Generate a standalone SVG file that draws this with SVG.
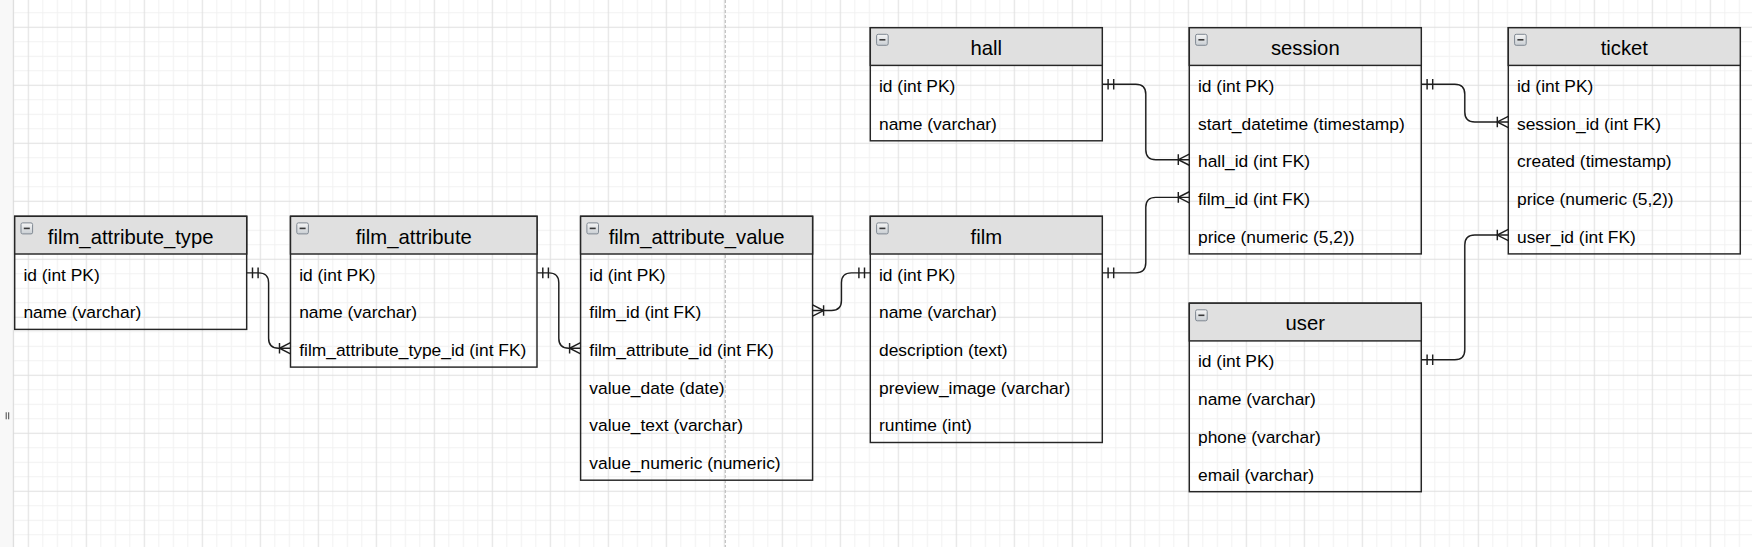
<svg xmlns="http://www.w3.org/2000/svg" xmlns:xlink="http://www.w3.org/1999/xlink" width="1752" height="547" viewBox="0 0 1752 547">
  <style>
    .box { fill: none; stroke: #262626; stroke-width: 1.45; }
    .hdr { fill: #e0e0e0; stroke: #262626; stroke-width: 1.45; }
    .title { font-family: "Liberation Sans", Arial, sans-serif; font-size: 20.3px; fill: #000; text-anchor: middle; }
    .row { font-family: "Liberation Sans", Arial, sans-serif; font-size: 17.4px; fill: #000; }
    .conn { fill: none; stroke: #1e1e1e; stroke-width: 1.45; marker-start: url(#mandOne); marker-end: url(#oneToMany); }
    .mk { fill: none; stroke: #1e1e1e; stroke-width: 1.45; }
  </style>
  <defs>
    <pattern id="grid" patternUnits="userSpaceOnUse" x="-7.85" y="-8.95" width="58" height="58">
      <path d="M7.25 0V58M21.75 0V58M50.75 0V58M0 7.25H58M0 21.75H58M0 50.75H58" stroke="#f1f1f1" stroke-width="1"/>
      <path d="M36.25 0V58M0 36.25H58" stroke="#dfdfdf" stroke-width="1"/>
    </pattern>
    <linearGradient id="icoGrad" x1="0" y1="0" x2="0" y2="1">
      <stop offset="0" stop-color="#f6f6f6"/>
      <stop offset="1" stop-color="#c9ced3"/>
    </linearGradient>
    <g id="collapse">
      <rect x="0" y="0" width="11.6" height="11" rx="1.6" fill="url(#icoGrad)" stroke="#7f8892" stroke-width="1"/>
      <path d="M2.8 5.5H8.8" stroke="#3a3a3a" stroke-width="1.6"/>
    </g>
    <marker id="mandOne" markerUnits="userSpaceOnUse" orient="auto" refX="0" refY="0" markerWidth="20" markerHeight="20" overflow="visible">
      <path class="mk" d="M5.8 -5.3V5.3M11.4 -5.3V5.3"/>
    </marker>
    <marker id="oneToMany" markerUnits="userSpaceOnUse" orient="auto" refX="0" refY="0" markerWidth="20" markerHeight="20" overflow="visible">
      <path class="mk" d="M-11 -5.3V5.3M0 -5.6L-11 0L0 5.6"/>
    </marker>
  </defs>

  <!-- background -->
  <rect x="0" y="0" width="1752" height="547" fill="#ffffff"/>
  <rect x="0" y="0" width="1752" height="547" fill="url(#grid)"/>
  <rect x="0" y="0" width="13.3" height="547" fill="#f8f8f8"/>
  <line x1="13.3" y1="0" x2="13.3" y2="547" stroke="#d9d9d9" stroke-width="1"/>
  <path d="M6.2 412.3V419.3M8.7 412.3V419.3" stroke="#444" stroke-width="1"/>
  <line x1="725.3" y1="0" x2="725.3" y2="547" stroke="#b8b8b8" stroke-width="1" stroke-dasharray="3 2"/>

  <!-- film_attribute_type -->
  <g id="film_attribute_type">
    <rect class="box" x="14.7" y="216.3" width="232" height="113.1"/>
    <rect class="hdr" x="14.7" y="216.3" width="232" height="37.7"/>
    <use xlink:href="#collapse" x="21" y="222.9"/>
    <text class="title" x="130.7" y="243.5">film_attribute_type</text>
    <text class="row" x="23.4" y="280.5">id (int PK)</text>
    <text class="row" x="23.4" y="318.2">name (varchar)</text>
  </g>

  <!-- film_attribute -->
  <g id="film_attribute">
    <rect class="box" x="290.5" y="216.3" width="246.5" height="150.8"/>
    <rect class="hdr" x="290.5" y="216.3" width="246.5" height="37.7"/>
    <use xlink:href="#collapse" x="296.8" y="222.9"/>
    <text class="title" x="413.75" y="243.5">film_attribute</text>
    <text class="row" x="299.2" y="280.5">id (int PK)</text>
    <text class="row" x="299.2" y="318.2">name (varchar)</text>
    <text class="row" x="299.2" y="355.9">film_attribute_type_id (int FK)</text>
  </g>

  <!-- film_attribute_value -->
  <g id="film_attribute_value">
    <rect class="box" x="580.6" y="216.3" width="232" height="263.9"/>
    <rect class="hdr" x="580.6" y="216.3" width="232" height="37.7"/>
    <use xlink:href="#collapse" x="586.9" y="222.9"/>
    <text class="title" x="696.6" y="243.5">film_attribute_value</text>
    <text class="row" x="589.3" y="280.5">id (int PK)</text>
    <text class="row" x="589.3" y="318.2">film_id (int FK)</text>
    <text class="row" x="589.3" y="355.9">film_attribute_id (int FK)</text>
    <text class="row" x="589.3" y="393.6">value_date (date)</text>
    <text class="row" x="589.3" y="431.3">value_text (varchar)</text>
    <text class="row" x="589.3" y="469.0">value_numeric (numeric)</text>
  </g>

  <!-- film -->
  <g id="film">
    <rect class="box" x="870.3" y="216.3" width="232" height="226.2"/>
    <rect class="hdr" x="870.3" y="216.3" width="232" height="37.7"/>
    <use xlink:href="#collapse" x="876.6" y="222.9"/>
    <text class="title" x="986.3" y="243.5">film</text>
    <text class="row" x="879" y="280.5">id (int PK)</text>
    <text class="row" x="879" y="318.2">name (varchar)</text>
    <text class="row" x="879" y="355.9">description (text)</text>
    <text class="row" x="879" y="393.6">preview_image (varchar)</text>
    <text class="row" x="879" y="431.3">runtime (int)</text>
  </g>

  <!-- hall -->
  <g id="hall">
    <rect class="box" x="870.3" y="27.7" width="232" height="113.1"/>
    <rect class="hdr" x="870.3" y="27.7" width="232" height="37.7"/>
    <use xlink:href="#collapse" x="876.6" y="34.3"/>
    <text class="title" x="986.3" y="54.9">hall</text>
    <text class="row" x="879" y="91.9">id (int PK)</text>
    <text class="row" x="879" y="129.6">name (varchar)</text>
  </g>

  <!-- session -->
  <g id="session">
    <rect class="box" x="1189.3" y="27.7" width="232" height="226.2"/>
    <rect class="hdr" x="1189.3" y="27.7" width="232" height="37.7"/>
    <use xlink:href="#collapse" x="1195.6" y="34.3"/>
    <text class="title" x="1305.3" y="54.9">session</text>
    <text class="row" x="1198" y="91.9">id (int PK)</text>
    <text class="row" x="1198" y="129.6">start_datetime (timestamp)</text>
    <text class="row" x="1198" y="167.3">hall_id (int FK)</text>
    <text class="row" x="1198" y="205.0">film_id (int FK)</text>
    <text class="row" x="1198" y="242.7">price (numeric (5,2))</text>
  </g>

  <!-- ticket -->
  <g id="ticket">
    <rect class="box" x="1508.3" y="27.7" width="232" height="226.2"/>
    <rect class="hdr" x="1508.3" y="27.7" width="232" height="37.7"/>
    <use xlink:href="#collapse" x="1514.6" y="34.3"/>
    <text class="title" x="1624.3" y="54.9">ticket</text>
    <text class="row" x="1517" y="91.9">id (int PK)</text>
    <text class="row" x="1517" y="129.6">session_id (int FK)</text>
    <text class="row" x="1517" y="167.3">created (timestamp)</text>
    <text class="row" x="1517" y="205.0">price (numeric (5,2))</text>
    <text class="row" x="1517" y="242.7">user_id (int FK)</text>
  </g>

  <!-- user -->
  <g id="user">
    <rect class="box" x="1189.3" y="303.2" width="232" height="188.5"/>
    <rect class="hdr" x="1189.3" y="303.2" width="232" height="37.7"/>
    <use xlink:href="#collapse" x="1195.6" y="309.8"/>
    <text class="title" x="1305.3" y="330.4">user</text>
    <text class="row" x="1198" y="367.4">id (int PK)</text>
    <text class="row" x="1198" y="405.1">name (varchar)</text>
    <text class="row" x="1198" y="442.8">phone (varchar)</text>
    <text class="row" x="1198" y="480.5">email (varchar)</text>
  </g>

  <!-- connectors -->
  <g id="connectors">
    <path class="conn" d="M246.7 272.85H258.6Q268.6 272.85 268.6 282.85V338.25Q268.6 348.25 278.6 348.25H290.5"/>
    <path class="conn" d="M537 272.85H548.8Q558.8 272.85 558.8 282.85V338.25Q558.8 348.25 568.8 348.25H580.6"/>
    <path class="conn" d="M870.3 272.85H851.45Q841.45 272.85 841.45 282.85V300.55Q841.45 310.55 831.45 310.55H812.6"/>
    <path class="conn" d="M1102.3 84.25H1135.8Q1145.8 84.25 1145.8 94.25V149.65Q1145.8 159.65 1155.8 159.65H1189.3"/>
    <path class="conn" d="M1102.3 272.85H1135.8Q1145.8 272.85 1145.8 262.85V207.35Q1145.8 197.35 1155.8 197.35H1189.3"/>
    <path class="conn" d="M1421.3 84.25H1454.8Q1464.8 84.25 1464.8 94.25V111.95Q1464.8 121.95 1474.8 121.95H1508.3"/>
    <path class="conn" d="M1421.3 359.75H1454.8Q1464.8 359.75 1464.8 349.75V245.05Q1464.8 235.05 1474.8 235.05H1508.3"/>
  </g>
</svg>
